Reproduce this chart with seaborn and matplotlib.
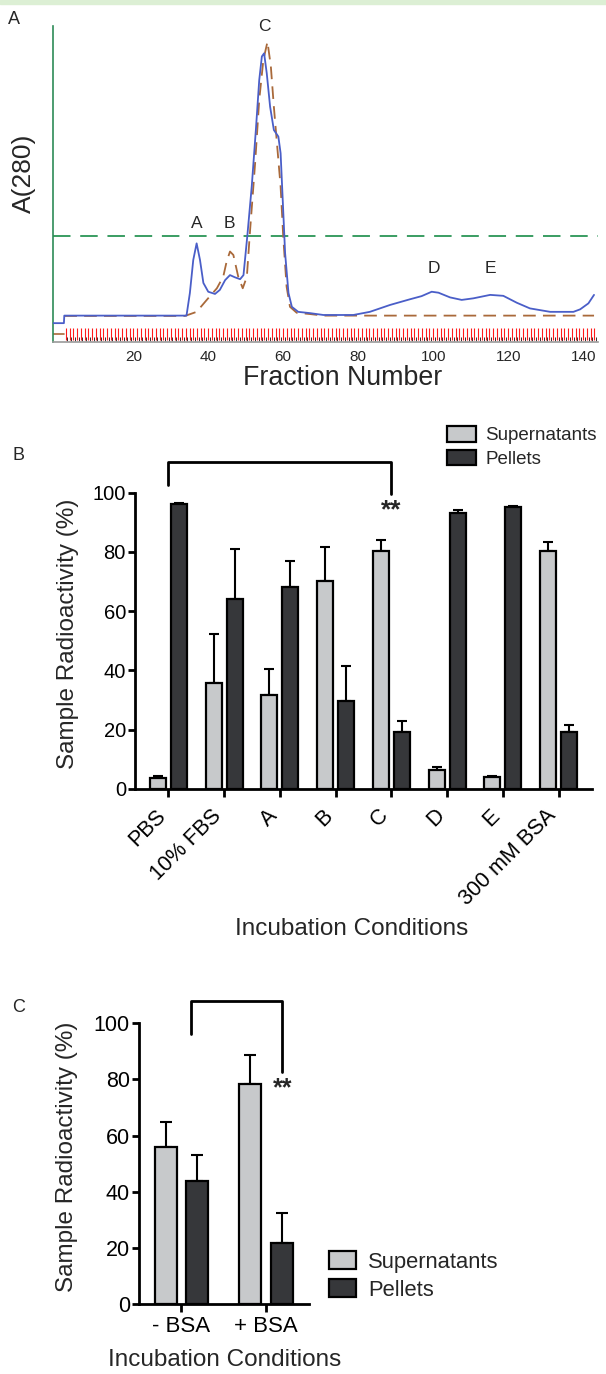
import numpy as np
import pandas as pd
import matplotlib
matplotlib.use("Agg")
import matplotlib.pyplot as plt
import matplotlib.transforms as mtransforms
import seaborn as sns
from matplotlib.patches import Patch, Rectangle

# ---------------- data ----------------
# Panel A: chromatogram (fraction number vs A280, arbitrary units 0-100)
frac_blue = [-1.4, 1.5, 1.6, 34.2, 35.1, 36.0, 36.9, 37.8, 38.7, 40.0, 41.8, 43.1, 44.5, 45.8,
             47.1, 48.5, 49.4, 50.4, 51.6, 52.7, 53.6, 54.3, 54.9, 55.6, 56.5, 57.5, 58.7, 59.3,
             59.9, 60.5, 61.4, 62.3, 64.0, 67.1, 70.7, 78.7, 83.1, 88.5, 93.8, 96.9, 99.6, 101.4,
             104.5, 107.6, 110.7, 115.2, 118.7, 122.3, 125.8, 131.2, 137.4, 139.2, 141.4, 142.9]
abs_blue = [6.0, 6.0, 8.4, 8.4, 15.6, 26.1, 31.4, 26.1, 18.8, 16.0, 15.3, 16.6, 19.7, 21.3,
            20.6, 20.0, 21.3, 33.5, 49.5, 67.5, 83.4, 90.9, 91.9, 85.6, 74.9, 67.5, 65.4, 60.1,
            44.3, 28.3, 15.6, 11.2, 9.6, 9.2, 8.6, 8.6, 9.6, 11.8, 13.6, 14.6, 16.0, 15.7,
            14.2, 13.4, 13.9, 15.0, 14.7, 12.5, 10.7, 9.6, 9.6, 10.4, 12.3, 15.0]
frac_brown = [1.6, 33.8, 36.9, 39.6, 42.3, 44.0, 44.9, 45.8, 46.7, 48.0, 49.2, 50.3, 51.1, 52.5,
              53.6, 54.7, 55.8, 56.7, 57.5, 58.4, 59.3, 60.0, 60.9, 61.8, 63.6, 67.1, 70.7, 142.9]
abs_brown = [8.3, 8.3, 9.6, 13.4, 17.1, 20.8, 25.6, 28.8, 27.7, 20.8, 17.1, 20.8, 34.6, 56.9,
             77.1, 89.8, 95.6, 87.7, 74.9, 62.2, 49.5, 33.5, 17.6, 11.2, 9.3, 8.9, 8.4, 8.4]
threshold_A = 33.6
peak_labels = ["A", "B", "C", "D", "E"]
peak_frac = [36.9, 45.6, 54.9, 100.2, 115.2]
peak_lab_y = [37.6, 37.6, 100.4, 23.5, 23.5]
fraction_marks = list(range(2, 144))
A_xticks = [20, 40, 60, 80, 100, 120, 140]

# Panel B
conditions_B = ["PBS", "10% FBS", "A", "B", "C", "D", "E", "300 mM BSA"]
sup_B = [3.8, 35.7, 31.7, 70.1, 80.2, 6.4, 4.2, 80.4]
sup_B_err = [0.6, 16.5, 8.9, 11.7, 3.8, 1.1, 0.2, 2.8]
pel_B = [96.1, 64.2, 68.2, 29.8, 19.3, 93.1, 95.2, 19.1]
pel_B_err = [0.4, 16.7, 8.9, 11.7, 3.8, 0.9, 0.2, 2.6]

# Panel C
conditions_C = ["- BSA", "+ BSA"]
sup_C = [56.1, 78.3]
sup_C_err = [8.9, 10.3]
pel_C = [43.9, 21.9]
pel_C_err = [9.1, 10.4]

series_names = ["Supernatants", "Pellets"]
yticks_bar = [0, 20, 40, 60, 80, 100]

# ---------------- style ----------------
sns.set_theme(style="ticks")
plt.rcParams["font.family"] = ["Liberation Sans", "DejaVu Sans"]
LIGHT = "#c7c9cb"
DARK = "#36373a"

W, H = 606, 1374
fig = plt.figure(figsize=(W / 100, H / 100), dpi=100)


def px_axes(l, t, r, b):
    return fig.add_axes([l / W, 1 - b / H, (r - l) / W, (b - t) / H])


# top light green band
fig.patches.append(Rectangle((0, 1 - 4 / H), 1, 4 / H, transform=fig.transFigure,
                             color="#dcefd4", zorder=0))

# ---------------- Panel A ----------------
axA = px_axes(53, 26, 598, 342)
sns.lineplot(x=frac_brown, y=abs_brown, ax=axA, color="#a9693a", lw=1.3,
             linestyle=(0, (7, 4)), estimator=None, sort=False, zorder=2)
sns.lineplot(x=frac_blue, y=abs_blue, ax=axA, color="#4a5ec8", lw=1.3,
             estimator=None, sort=False, zorder=3)
axA.plot([-1.4, 1.5], [2.5, 2.5], color="#a9693a", lw=1.2, zorder=2)
axA.axhline(threshold_A, color="#3a9d62", lw=1.4, ls=(0, (9, 5)), zorder=1)
axA.vlines(fraction_marks, 0.6, 4.5, color="#ff1a1a", lw=0.8, zorder=1)
axA.vlines([f + 0.45 for f in fraction_marks], 0.4, 1.6, color="#3a2a2a", lw=0.7, zorder=1)
for lab, fx, fy in zip(peak_labels, peak_frac, peak_lab_y):
    axA.text(fx, fy, lab, ha="center", va="center", fontsize=12.5, clip_on=False)
axA.set_xlim(-1.41, 143.96)
axA.set_ylim(0, 100.6)
axA.set_xticks(A_xticks)
axA.set_xticklabels([str(t) for t in A_xticks])
axA.set_yticks([])
axA.tick_params(axis="x", length=0, pad=5.5, labelsize=11)
axA.spines["top"].set_visible(False)
axA.spines["right"].set_visible(False)
axA.spines["left"].set_color("#2e8b57")
axA.spines["left"].set_linewidth(1.2)
axA.spines["bottom"].set_color("#999999")
axA.spines["bottom"].set_linewidth(1.2)
axA.set_xlabel("")
axA.set_ylabel("")
fig.text(343 / W, 1 - 378 / H, "Fraction Number", ha="center", va="center", fontsize=19.3)
fig.text(24 / W, 1 - 173 / H, "A(280)", ha="center", va="center", rotation=90, fontsize=19)
fig.text(14 / W, 1 - 20 / H, "A", ha="center", va="center", fontsize=13)


# ---------------- bar helper ----------------
def bar_panel(ax, conds, sup, sup_err, pel, pel_err, width, gap, capsize, xtl_size, ytl_size):
    df = pd.DataFrame({
        "Condition": conds * 2,
        "Fraction": [series_names[0]] * len(conds) + [series_names[1]] * len(conds),
        "Value": sup + pel,
    })
    sns.barplot(data=df, x="Condition", y="Value", hue="Fraction", hue_order=series_names,
                order=conds, palette=[LIGHT, DARK], saturation=1, width=width, gap=gap,
                edgecolor="black", linewidth=1.6, errorbar=None, legend=False, ax=ax)
    for cont, errs in zip(ax.containers, [sup_err, pel_err]):
        xs = [p.get_x() + p.get_width() / 2 for p in cont]
        ys = [p.get_height() for p in cont]
        ax.errorbar(xs, ys, yerr=[np.zeros(len(errs)), errs], fmt="none", ecolor="black",
                    elinewidth=1.5, capsize=capsize, capthick=1.5, zorder=0.5)
    ax.set_ylim(0, 100)
    ax.set_yticks(yticks_bar)
    ax.set_yticklabels([str(t) for t in yticks_bar])
    ax.set_xlabel("")
    ax.set_ylabel("")
    for s in ["top", "right"]:
        ax.spines[s].set_visible(False)
    for s in ["left", "bottom"]:
        ax.spines[s].set_linewidth(2.0)
        ax.spines[s].set_color("black")
    ax.tick_params(axis="y", direction="out", length=5, width=2, pad=1.5,
                   labelsize=ytl_size, colors="black")
    ax.tick_params(axis="x", direction="out", length=6, width=2, colors="black",
                   labelsize=xtl_size)


# ---------------- Panel B ----------------
axB = px_axes(135, 492.7, 592, 789)
bar_panel(axB, conditions_B, sup_B, sup_B_err, pel_B, pel_B_err,
          width=0.75, gap=0.235, capsize=3.3, xtl_size=15.5, ytl_size=14.5)
axB.set_xlim(-0.6, 7.6)
axB.tick_params(axis="x", pad=11)
shift = mtransforms.ScaledTranslation(-6 / 100, 0, fig.dpi_scale_trans)
for lbl in axB.get_xticklabels():
    lbl.set_rotation(45)
    lbl.set_ha("right")
    lbl.set_va("center")
    lbl.set_rotation_mode("anchor")
    lbl.set_transform(lbl.get_transform() + shift)
axB.plot([0, 0, 4.0, 4.0], [102.5, 110.2, 110.2, 99.5], color="black", lw=2, clip_on=False)
axB.text(4.0, 94.0, "**", ha="center", va="center", fontsize=19, fontweight="bold")
fig.text(68 / W, 1 - 634 / H, "Sample Radioactivity (%)", ha="center", va="center",
         rotation=90, fontsize=17.5)
fig.text(352 / W, 1 - 929 / H, "Incubation Conditions", ha="center", va="center", fontsize=17.5)
fig.text(18 / W, 1 - 455 / H, "B", ha="center", va="center", fontsize=13)
fig.legend(handles=[Patch(facecolor=LIGHT, edgecolor="black", linewidth=1.6),
                    Patch(facecolor=DARK, edgecolor="black", linewidth=1.6)],
           labels=series_names, loc="upper left", bbox_to_anchor=(447 / W, 1 - 426 / H),
           frameon=False, borderpad=0, borderaxespad=0, fontsize=13.5,
           handlelength=1.55, handleheight=0.9, handletextpad=0.5, labelspacing=0.3)

# ---------------- Panel C ----------------
axC = px_axes(139, 1023.3, 308.5, 1304)
bar_panel(axC, conditions_C, sup_C, sup_C_err, pel_C, pel_C_err,
          width=0.74, gap=0.3, capsize=4.6, xtl_size=16, ytl_size=15.5)
axC.set_xlim(-0.5, 1.5)
axC.tick_params(axis="x", pad=3)
axC.plot([0.118, 0.118, 1.19, 1.19], [96.3, 108, 108, 82.7], color="black", lw=2, clip_on=False)
axC.text(1.19, 77.0, "**", ha="center", va="center", fontsize=18, fontweight="bold")
fig.text(67 / W, 1 - 1157 / H, "Sample Radioactivity (%)", ha="center", va="center",
         rotation=90, fontsize=17.5)
fig.text(225 / W, 1 - 1360 / H, "Incubation Conditions", ha="center", va="center", fontsize=17.5)
fig.text(18.6 / W, 1 - 1008 / H, "C", ha="center", va="center", fontsize=13)
fig.legend(handles=[Patch(facecolor=LIGHT, edgecolor="black", linewidth=1.6),
                    Patch(facecolor=DARK, edgecolor="black", linewidth=1.6)],
           labels=series_names, loc="upper left", bbox_to_anchor=(329 / W, 1 - 1251 / H),
           frameon=False, borderpad=0, borderaxespad=0, fontsize=15.8,
           handlelength=1.23, handleheight=0.91, handletextpad=0.55, labelspacing=0.28)

fig.savefig("out.png", dpi=100)
